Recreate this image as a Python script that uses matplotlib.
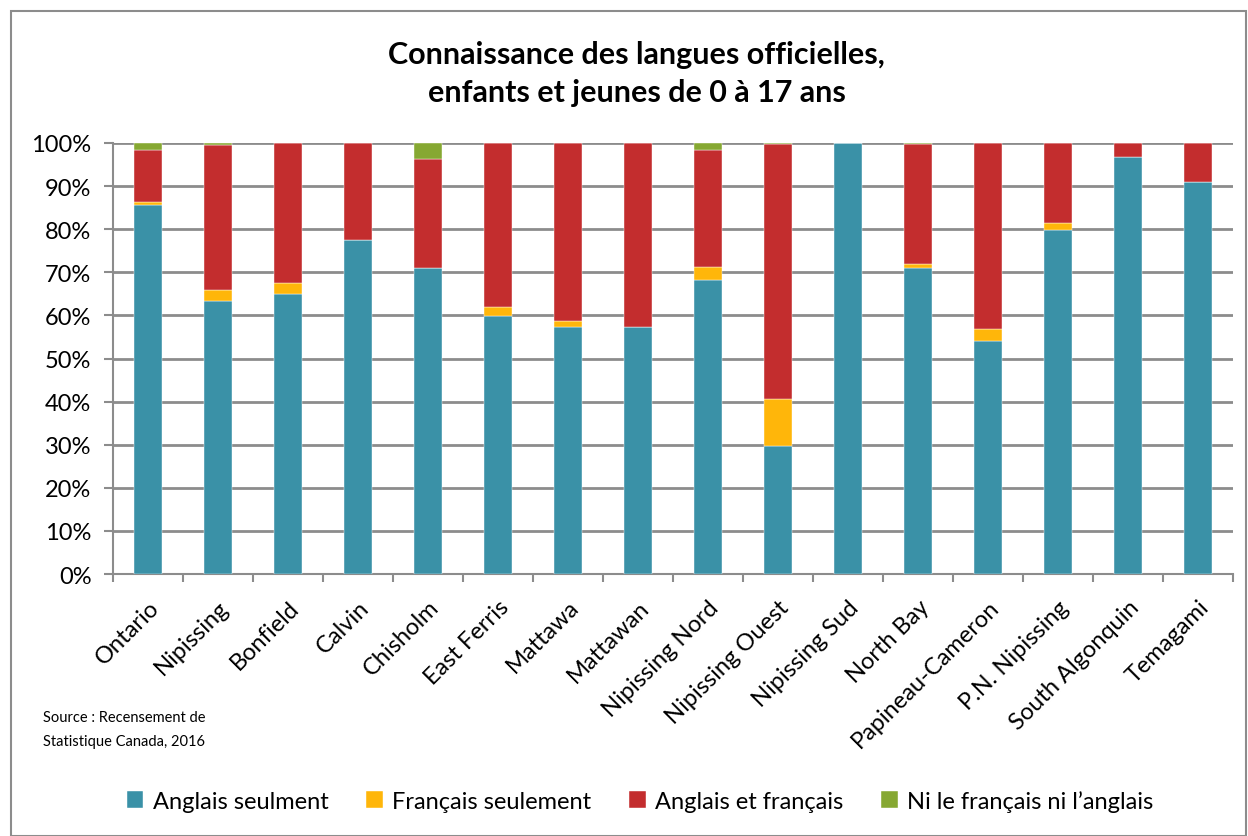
import matplotlib.pyplot as plt
import numpy as np
from matplotlib.patches import Rectangle

plt.rcParams['font.family'] = ['Lato', 'DejaVu Sans']

regions = ["Ontario", "Nipissing", "Bonfield", "Calvin", "Chisholm", "East Ferris",
           "Mattawa", "Mattawan", "Nipissing Nord", "Nipissing Ouest", "Nipissing Sud",
           "North Bay", "Papineau-Cameron", "P.N. Nipissing", "South Algonquin", "Temagami"]

anglais = [85.7, 63.3, 65.0, 77.4, 70.9, 59.9, 57.3, 57.2, 68.2, 29.7, 100.0,
           71.0, 54.1, 79.7, 96.8, 90.9]
francais = [0.7, 2.6, 2.6, 0.0, 0.0, 2.0, 1.3, 0.0, 3.1, 11.0, 0.0,
            0.9, 2.7, 1.7, 0.0, 0.0]
les_deux = [11.9, 33.6, 32.4, 22.6, 25.5, 38.1, 41.4, 42.8, 27.1, 59.0, 0.0,
            27.9, 43.2, 18.6, 3.2, 9.1]
aucune = [1.7, 0.5, 0.0, 0.0, 3.6, 0.0, 0.0, 0.0, 1.6, 0.3, 0.0,
          0.2, 0.0, 0.0, 0.0, 0.0]

series = [anglais, francais, les_deux, aucune]
noms = ["Anglais seulment", "Français seulement", "Anglais et français",
        "Ni le français ni l\u2019anglais"]
couleurs = ["#3A91A7", "#FFB60A", "#C32D2E", "#86A832"]

fig = plt.figure(figsize=(12.48, 8.37), dpi=100)
fig.patches.append(Rectangle((11 / 1248, 0), 1 - 11 / 1248 - 0.002, 1 - 12 / 837,
                             transform=fig.transFigure, fill=False,
                             edgecolor="#8c8c8c", linewidth=1.5))

ax = fig.add_axes([113 / 1248, 1 - 575 / 837, (1233 - 113) / 1248, (575 - 144) / 837])

x = np.arange(len(regions))
bas = np.zeros(len(regions))
handles = []
for vals, nom, c in zip(series, noms, couleurs):
    vals = np.array(vals)
    b = ax.bar(x, vals, 0.4, bottom=bas, color=c, label=nom,
               edgecolor="white", linewidth=0.3, zorder=3)
    handles.append(b)
    bas += vals

ax.set_xlim(-0.5, len(regions) - 0.5)
ax.set_ylim(0, 100)
ax.set_yticks(np.arange(0, 101, 10))
ax.set_yticklabels(["%d%%" % v for v in range(0, 101, 10)], fontsize=17)
ax.yaxis.grid(True, color="#8c8c8c", linewidth=2, zorder=0)
ax.tick_params(axis="y", length=6.5, width=1.5, color="#8c8c8c", pad=9)

ax.set_xticks(x)
ax.set_xticklabels(regions, rotation=45, ha="right", rotation_mode="anchor", fontsize=17)
ax.tick_params(axis="x", length=0, pad=16)
ax.set_xticks(np.arange(-0.5, len(regions)), minor=True)
ax.tick_params(axis="x", which="minor", length=6, width=1.5, color="#8c8c8c")

for s in ["top", "right"]:
    ax.spines[s].set_visible(False)
for s in ["left", "bottom"]:
    ax.spines[s].set_color("#8c8c8c")
    ax.spines[s].set_linewidth(1.5)

fig.text(0.51, 1 - 74 / 837, "Connaissance des langues officielles,\nenfants et jeunes de 0 à 17 ans",
         ha="center", va="center", fontsize=22, fontweight="bold", linespacing=1.45)

fig.text(43 / 1248, 1 - 718 / 837, "Source : Recensement de", fontsize=10.5, va="center")
fig.text(43 / 1248, 1 - 742 / 837, "Statistique Canada, 2016", fontsize=10.5, va="center")

fig.legend(handles=handles, loc="center", bbox_to_anchor=(0.513, 1 - 802 / 837),
           ncol=4, frameon=False, fontsize=17, handlelength=0.7, handleheight=0.7,
           columnspacing=1.6, handletextpad=0.4)

fig.savefig("out.png", dpi=100)
